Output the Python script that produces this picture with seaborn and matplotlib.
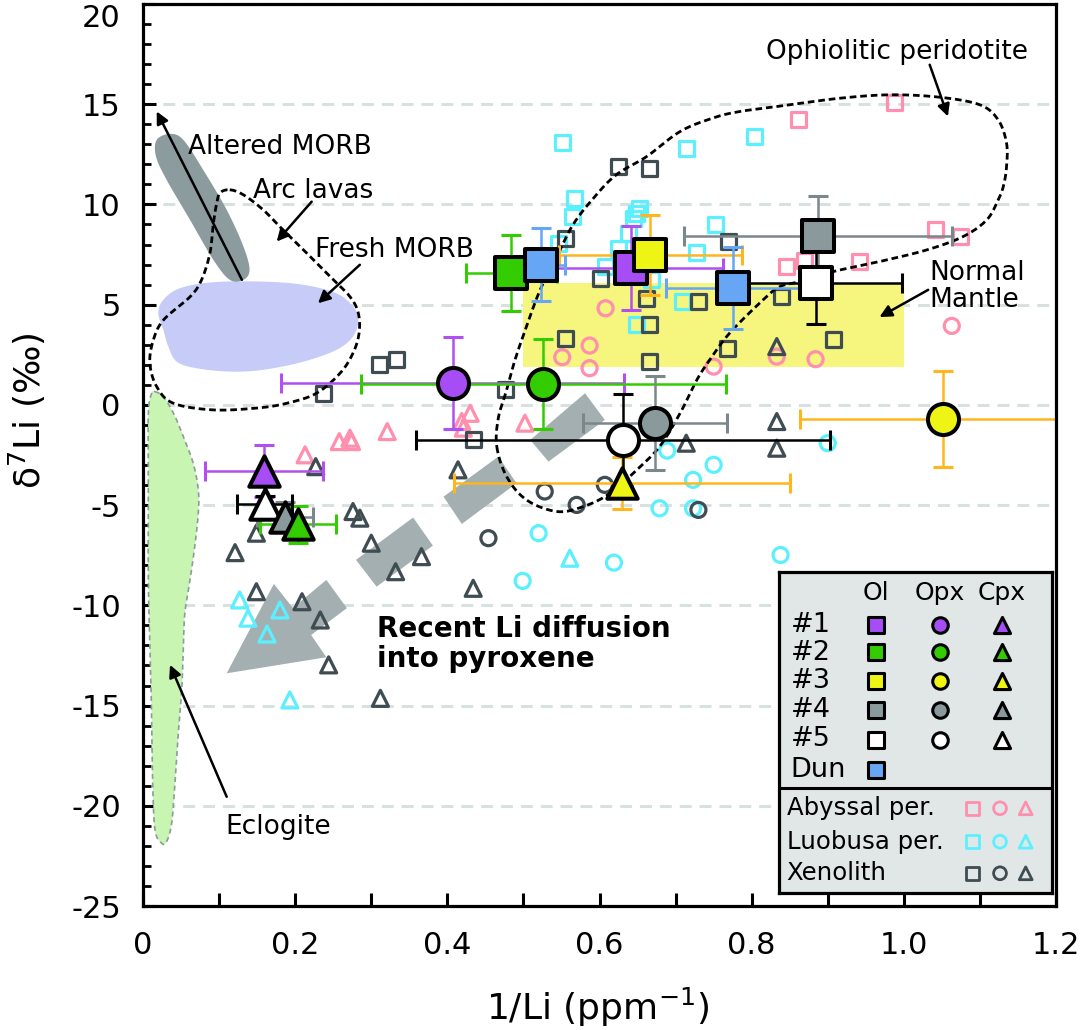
import numpy as np
import matplotlib
matplotlib.use("Agg")
import matplotlib.pyplot as plt
from matplotlib.ticker import MultipleLocator
import seaborn as sns

sns.set_style("ticks")
plt.rcParams["font.family"] = ["DejaVu Sans"]
plt.rcParams["axes.unicode_minus"] = False
plt.rcParams.update({"text.color": "black", "axes.labelcolor": "black",
                     "xtick.color": "black", "ytick.color": "black"})

# ---------------- data ----------------
sample_names = ["#1", "#2", "#3", "#4", "#5"]
fill_colors = ["#a64df5", "#33cc00", "#eef514", "#8a9a9c", "#ffffff"]
err_colors = ["#b050f0", "#33cc00", "#ffb61c", "#7b888b", "#000000"]

# olivine (squares)
ol_x = [0.642, 0.484, 0.667, 0.887, 0.885]
ol_y = [6.82, 6.60, 7.49, 8.43, 6.10]
ol_xerr = [0.120, 0.060, 0.120, 0.176, 0.113]
ol_yerr = [2.08, 1.90, 2.00, 2.00, 2.07]

# dunite olivine (blue squares)
dun_color = "#66a6f5"
dun_x = [0.523, 0.776]
dun_y = [6.99, 5.82]
dun_xerr = [0.032, 0.089]
dun_yerr = [1.83, 2.05]

# orthopyroxene (circles)
opx_x = [0.407, 0.526, 1.052, 0.673, 0.631]
opx_y = [1.08, 1.05, -0.70, -0.91, -1.75]
opx_xerr = [0.225, 0.240, 0.188, 0.095, 0.272]
opx_yerr = [2.30, 2.25, 2.40, 2.35, 2.30]

# clinopyroxene (triangles)
cpx_x = [0.159, 0.204, 0.630, 0.187, 0.160]
cpx_y = [-3.30, -5.95, -3.91, -5.57, -4.96]
cpx_xerr = [0.078, 0.050, 0.221, 0.037, 0.036]
cpx_yerr = [1.30, 0.92, 1.30, 0.75, 0.40]

# literature data
ref_names = ["Abyssal per.", "Luobusa per.", "Xenolith"]
ref_colors = ["#ff8fae", "#5cf0ff", "#3f4c52"]

aby_sq_x = [0.861, 0.988, 1.042, 1.074, 0.942, 0.846, 0.870]
aby_sq_y = [14.26, 15.08, 8.73, 8.42, 7.17, 6.90, 7.20]
aby_ci_x = [0.608, 0.551, 0.587, 0.587, 0.750, 0.833, 0.884, 1.063]
aby_ci_y = [4.82, 2.38, 2.96, 1.83, 1.91, 2.41, 2.28, 3.94]
aby_tr_x = [0.213, 0.258, 0.272, 0.274, 0.321, 0.419, 0.430, 0.421, 0.502]
aby_tr_y = [-2.49, -1.83, -1.66, -1.83, -1.33, -0.83, -0.42, -1.16, -0.91]

luo_sq_x = [0.551, 0.714, 0.804, 0.567, 0.564, 0.546, 0.653, 0.649, 0.645,
            0.638, 0.625, 0.608, 0.752, 0.728, 0.709, 0.649, 0.668]
luo_sq_y = [13.10, 12.81, 13.39, 10.31, 9.40, 8.07, 9.82, 9.57, 9.30,
            8.57, 7.82, 6.90, 8.98, 7.60, 5.16, 3.99, 6.24]
luo_ci_x = [0.689, 0.750, 0.723, 0.679, 0.723, 0.520, 0.619, 0.499, 0.838, 0.900]
luo_ci_y = [-2.28, -2.99, -3.74, -5.16, -5.16, -6.40, -7.87, -8.78, -7.49, -1.91]
luo_tr_x = [0.127, 0.138, 0.180, 0.163, 0.193, 0.561]
luo_tr_y = [-9.73, -10.64, -10.23, -11.43, -14.72, -7.65]

xen_sq_x = [0.311, 0.333, 0.237, 0.625, 0.666, 0.555, 0.601, 0.662, 0.769,
            0.730, 0.666, 0.839, 0.555, 0.666, 0.768, 0.476, 0.908, 0.434]
xen_sq_y = [2.00, 2.28, 0.58, 11.89, 11.81, 8.32, 6.32, 5.32, 8.15,
            5.16, 3.99, 5.41, 3.33, 2.16, 2.83, 0.75, 3.28, -1.75]
xen_ci_x = [0.528, 0.570, 0.607, 0.730, 0.454]
xen_ci_y = [-4.32, -4.99, -3.99, -5.24, -6.65]
xen_tr_x = [0.227, 0.121, 0.149, 0.276, 0.285, 0.300, 0.366, 0.332, 0.414, 0.434,
            0.149, 0.209, 0.233, 0.244, 0.312, 0.833, 0.833, 0.714, 0.833]
xen_tr_y = [-3.08, -7.37, -6.40, -5.32, -5.65, -6.90, -7.57, -8.32, -3.24, -9.15,
            -9.32, -9.82, -10.73, -12.97, -14.64, -0.83, -2.16, -1.91, 2.91]

# fields
altered_x = [0.018, 0.0355, 0.053, 0.079, 0.110, 0.132, 0.140, 0.132, 0.114, 0.0924, 0.0618, 0.031, 0.0171]
altered_y = [13.22, 13.52, 13.22, 11.73, 9.73, 7.90, 6.74, 6.24, 6.24, 7.24, 9.23, 11.23, 12.39]

fresh_x = [0.0201, 0.0267, 0.0486, 0.0924, 0.158, 0.211, 0.254, 0.276, 0.283, 0.276, 0.254, 0.211,
           0.158, 0.114, 0.0701, 0.0443, 0.0333, 0.0267]
fresh_y = [4.57, 5.24, 5.82, 6.12, 6.15, 5.99, 5.57, 4.91, 4.24, 3.41, 2.74, 2.16,
           1.75, 1.66, 1.83, 2.16, 2.91, 3.74]

arc_x = [0.114, 0.132, 0.158, 0.184, 0.211, 0.246, 0.272, 0.283, 0.284, 0.276, 0.259, 0.228,
         0.189, 0.149, 0.092, 0.040, 0.018, 0.009, 0.0136, 0.027, 0.062, 0.077, 0.088, 0.092, 0.096, 0.101]
arc_y = [10.73, 10.48, 9.73, 8.73, 7.73, 6.40, 5.40, 4.58, 3.58, 2.58, 1.58, 0.58,
         0.08, -0.16, -0.25, 0.08, 0.91, 2.08, 3.24, 4.24, 5.40, 6.24, 7.57, 8.90, 9.90, 10.56]

ophio_x = [0.465, 0.478, 0.504, 0.544, 0.579, 0.614, 0.649, 0.679, 0.706, 0.728, 0.745, 0.771,
           0.815, 0.837, 0.863, 0.907, 0.968, 1.030, 1.078, 1.109, 1.124, 1.131, 1.135, 1.135,
           1.124, 1.100, 1.047, 0.982, 0.916, 0.850, 0.785, 0.749, 0.706, 0.662, 0.622, 0.592,
           0.565, 0.544, 0.522, 0.504, 0.489, 0.478, 0.467]
ophio_y = [-2.08, -3.58, -4.74, -5.32, -5.07, -4.41, -3.24, -2.08, -0.41, 1.25, 2.25, 3.58,
           5.24, 5.90, 6.15, 6.65, 7.15, 7.73, 8.40, 9.23, 10.23, 10.93, 11.89, 13.06,
           14.22, 14.97, 15.35, 15.47, 15.30, 14.97, 14.64, 14.31, 13.64, 12.39, 11.48, 10.31,
           8.98, 7.40, 5.74, 3.91, 2.25, 0.75, -0.66]

eclog_x = [0.0158, 0.0267, 0.040, 0.053, 0.066, 0.0727, 0.0727, 0.068, 0.0618, 0.055, 0.053, 0.0509,
           0.0464, 0.042, 0.0377, 0.031, 0.0246, 0.0158, 0.0127, 0.0114, 0.0092, 0.007, 0.007, 0.007, 0.0114]
eclog_y = [0.66, 0.41, -0.41, -1.58, -2.91, -4.24, -5.40, -7.07, -8.73, -10.39, -12.23, -14.22,
           -16.38, -18.88, -20.87, -21.79, -21.87, -21.21, -18.88, -15.55, -12.23, -8.73, -3.74, -0.41, 0.58]

mantle_x = [0.5, 1.0]
mantle_y = [1.9, 6.1]

# diffusion arrow pieces (head + 3 bars)
diff_head_x = [0.110, 0.172, 0.197, 0.241, 0.268, 0.221, 0.241]
diff_head_y = [-13.39, -8.93, -10.13, -8.73, -10.14, -11.48, -12.59]
diff_bar2_x = [0.280, 0.355, 0.381, 0.307]
diff_bar2_y = [-7.73, -5.62, -7.02, -9.07]
diff_bar3_x = [0.395, 0.467, 0.491, 0.419]
diff_bar3_y = [-4.58, -2.58, -3.91, -5.94]
diff_bar4_x = [0.509, 0.581, 0.607, 0.533]
diff_bar4_y = [-1.75, 0.58, -0.75, -2.83]

xticks = [0, 0.2, 0.4, 0.6, 0.8, 1.0, 1.2]
xtick_labels = ["0", "0.2", "0.4", "0.6", "0.8", "1.0", "1.2"]
yticks = list(range(-25, 21, 5))


def smooth_closed(xs, ys, n=24):
    # Catmull-Rom through the points, done in screen-like units
    sx, sy = 761.0, 20.04
    P = np.column_stack([np.asarray(xs) * sx, np.asarray(ys) * sy])
    m = len(P)
    t = np.linspace(0, 1, n, endpoint=False)[:, None]
    out = []
    for i in range(m):
        p0, p1, p2, p3 = P[i - 1], P[i], P[(i + 1) % m], P[(i + 2) % m]
        out.append(0.5 * (2 * p1 + (-p0 + p2) * t + (2 * p0 - 5 * p1 + 4 * p2 - p3) * t ** 2
                          + (-p0 + 3 * p1 - 3 * p2 + p3) * t ** 3))
    out = np.vstack(out + [out[0][:1]])
    return out[:, 0] / sx, out[:, 1] / sy


def open_pts(ax, xs, ys, marker, color, s, lw=2.3, z=3):
    sns.scatterplot(x=xs, y=ys, marker=marker, s=s, color=color, linewidth=lw,
                    ax=ax, legend=False, zorder=z)
    pc = ax.collections[-1]
    pc.set_facecolor("none")
    pc.set_edgecolor(color)


def big_pt(ax, x, y, marker, fill, s, lw=2.9, z=6):
    sns.scatterplot(x=[x], y=[y], marker=marker, s=s, color=fill, edgecolor="black",
                    linewidth=lw, ax=ax, legend=False, zorder=z)


def err(ax, x, y, xe, ye, c):
    ax.errorbar(x, y, xerr=xe, yerr=ye, fmt="none", ecolor=c, elinewidth=1.8,
                capsize=7.2, capthick=2.2, zorder=4)


fig = plt.figure(figsize=(10.82, 10.30), dpi=100)
ax = fig.add_axes([143 / 1082, 124 / 1030, 913 / 1082, 902 / 1030])

# ---- fields ----
ax.fill_between(mantle_x, mantle_y[0], mantle_y[1], color="#f6f67e", lw=0, zorder=1)
fx, fy = smooth_closed(fresh_x, fresh_y)
ax.fill(fx, fy, color="#c6ccf7", lw=0, zorder=1.2)
ax_, ay_ = smooth_closed(altered_x, altered_y)
ax.fill(ax_, ay_, color="#8c9b9d", lw=0, zorder=1.3)
ex, ey = smooth_closed(eclog_x, eclog_y, n=12)
ax.fill(ex, ey, color="#c8f5b2", lw=0, zorder=1.2)
ax.plot(ex, ey, color="#8e9a9c", lw=1.2, ls=(0, (3, 2.2)), zorder=1.4)

for px_, py_ in [(diff_head_x, diff_head_y), (diff_bar2_x, diff_bar2_y),
                 (diff_bar3_x, diff_bar3_y), (diff_bar4_x, diff_bar4_y)]:
    ax.fill(px_, py_, color="#a4afb1", lw=0, zorder=1.5)

# ---- literature data ----
open_pts(ax, aby_sq_x, aby_sq_y, "s", ref_colors[0], 117)
open_pts(ax, aby_ci_x, aby_ci_y, "o", ref_colors[0], 117)
open_pts(ax, aby_tr_x, aby_tr_y, "^", ref_colors[0], 133)
open_pts(ax, luo_sq_x, luo_sq_y, "s", ref_colors[1], 117)
open_pts(ax, luo_ci_x, luo_ci_y, "o", ref_colors[1], 117)
open_pts(ax, luo_tr_x, luo_tr_y, "^", ref_colors[1], 133)
open_pts(ax, xen_sq_x, xen_sq_y, "s", ref_colors[2], 117)
open_pts(ax, xen_ci_x, xen_ci_y, "o", ref_colors[2], 117)
open_pts(ax, xen_tr_x, xen_tr_y, "^", ref_colors[2], 133)

# ---- dashed outlines ----
ox, oy = smooth_closed(ophio_x, ophio_y)
ax.plot(ox, oy, color="black", lw=2.0, ls=(0, (2.4, 1.4)), zorder=3.5)
cx, cy = smooth_closed(arc_x, arc_y)
ax.plot(cx, cy, color="black", lw=2.0, ls=(0, (2.4, 1.4)), zorder=3.5)

# ---- this study ----
for i in range(5):
    err(ax, ol_x[i], ol_y[i], ol_xerr[i], ol_yerr[i], err_colors[i])
    err(ax, opx_x[i], opx_y[i], opx_xerr[i], opx_yerr[i], err_colors[i])
    err(ax, cpx_x[i], cpx_y[i], cpx_xerr[i], cpx_yerr[i], err_colors[i])
for i in range(2):
    err(ax, dun_x[i], dun_y[i], dun_xerr[i], dun_yerr[i], dun_color)

for i in [0, 1, 2, 3, 4]:
    big_pt(ax, ol_x[i], ol_y[i], "s", fill_colors[i], 500)
for i in range(2):
    big_pt(ax, dun_x[i], dun_y[i], "s", dun_color, 500)
for i in [0, 1, 2, 4, 3]:
    big_pt(ax, opx_x[i], opx_y[i], "o", fill_colors[i], 500)
for i in [0, 4, 3, 1, 2]:
    big_pt(ax, cpx_x[i], cpx_y[i], "^", fill_colors[i], 480)

# ---- labels ----
afs = 19
arrow = dict(arrowstyle="-|>", color="black", lw=1.8, mutation_scale=18, shrinkA=0, shrinkB=0)
ax.text(0.059, 12.87, "Altered MORB", fontsize=afs, va="center", zorder=7)
ax.annotate("", xy=(0.018, 14.64), xytext=(0.130, 6.24), arrowprops=arrow, zorder=7)
ax.text(0.1446, 10.68, "Arc lavas", fontsize=afs, va="center", zorder=7)
ax.annotate("", xy=(0.1757, 8.15), xytext=(0.2217, 10.14), arrowprops=arrow, zorder=7)
ax.text(0.226, 7.73, "Fresh MORB", fontsize=afs, va="center", zorder=7)
ax.annotate("", xy=(0.230, 5.07), xytext=(0.285, 6.99), arrowprops=arrow, zorder=7)
ax.text(0.819, 17.61, "Ophiolitic peridotite", fontsize=afs, va="center", zorder=7)
ax.annotate("", xy=(1.058, 14.39), xytext=(1.034, 16.97), arrowprops=arrow, zorder=7)
ax.text(1.034, 5.89, "Normal\nMantle", fontsize=afs, va="center", linespacing=1.05, zorder=7)
ax.annotate("", xy=(0.968, 4.38), xytext=(1.032, 5.74), arrowprops=arrow, zorder=7)
ax.text(0.108, -21.04, "Eclogite", fontsize=afs, va="center", zorder=7)
ax.annotate("", xy=(0.0355, -12.97), xytext=(0.110, -19.55), arrowprops=arrow, zorder=7)
ax.text(0.3075, -11.93, "Recent Li diffusion\ninto pyroxene", fontsize=20, fontweight="bold",
        va="center", linespacing=1.1, zorder=7)

# ---- axes ----
ax.set_xlim(0, 1.2)
ax.set_ylim(-25, 20)
ax.set_xticks(xticks)
ax.set_xticklabels(xtick_labels)
ax.set_yticks(yticks)
ax.set_yticklabels([str(v) for v in yticks])
ax.xaxis.set_minor_locator(MultipleLocator(0.1))
ax.yaxis.set_minor_locator(MultipleLocator(1))
ax.tick_params(axis="both", which="both", direction="in", colors="black", top=False, right=False)
ax.tick_params(axis="x", which="both", length=9.5, width=2.2, labelsize=22, pad=18)
ax.tick_params(axis="y", which="major", length=9.5, width=2.2, labelsize=22, pad=16)
ax.tick_params(axis="y", which="minor", length=6, width=2.0)
for lbl in ax.get_yticklabels():
    if lbl.get_text() == "20":
        lbl.set_va("top")
for sp in ax.spines.values():
    sp.set_linewidth(2.3)
    sp.set_color("black")
    sp.set_zorder(8)
ax.set_axisbelow(True)
ax.grid(axis="y", which="major", color="#d8e0e0", lw=2.2, ls=(0, (3.9, 2.6)))
ax.set_xlabel("1/Li (ppm$^{-1}$)", fontsize=26, va="center")
ax.xaxis.set_label_coords(0.498, -0.112)
ax.set_ylabel("δ$^{7}$Li (‰)", fontsize=26, va="center")
ax.yaxis.set_label_coords(-0.127, 0.549)

# ---- legend box ----
lax = fig.add_axes([779.3 / 1082, (1030 - 893.3) / 1030, 272.4 / 1082, 321.6 / 1030])
lax.set_xlim(0, 272.4)
lax.set_ylim(321.6, 0)
lax.set_facecolor("#e1e7e7")
lax.set_xticks([])
lax.set_yticks([])
for sp in lax.spines.values():
    sp.set_linewidth(2.3)
    sp.set_color("black")
lax.axhline(216.6, color="black", lw=2.2)

col_x = [96.7, 160.7, 222.4]
row_y = [53.0, 80.8, 109.3, 138.3, 167.8, 198.3]
for cxp, h in zip(col_x, ["Ol", "Opx", "Cpx"]):
    lax.text(cxp, 21.6, h, fontsize=18, ha="center", va="center")
for i, name in enumerate(sample_names + ["Dun"]):
    lax.text(11.5, row_y[i], name, fontsize=19.5, ha="left", va="center")
for i in range(5):
    for cxp, mk, s in zip(col_x, ["s", "o", "^"], [125, 125, 135]):
        lax.scatter([cxp], [row_y[i]], marker=mk, s=s, color=fill_colors[i],
                    edgecolor="black", linewidth=2.2, zorder=3)
lax.scatter([col_x[0]], [row_y[5]], marker="s", s=125, color=dun_color,
            edgecolor="black", linewidth=2.2, zorder=3)

ref_y = [236.6, 270.0, 301.6]
ref_mx = [193.0, 220.7, 246.4]
for name, c, yy in zip(ref_names, ref_colors, ref_y):
    lax.text(7.4, yy, name, fontsize=17.6, ha="left", va="center")
    for mx, mk in zip(ref_mx, ["s", "o", "^"]):
        lax.scatter([mx], [yy], marker=mk, s=85, facecolor="none", edgecolor=c,
                    linewidth=2.0, zorder=3)

fig.savefig("out.png", dpi=100)
